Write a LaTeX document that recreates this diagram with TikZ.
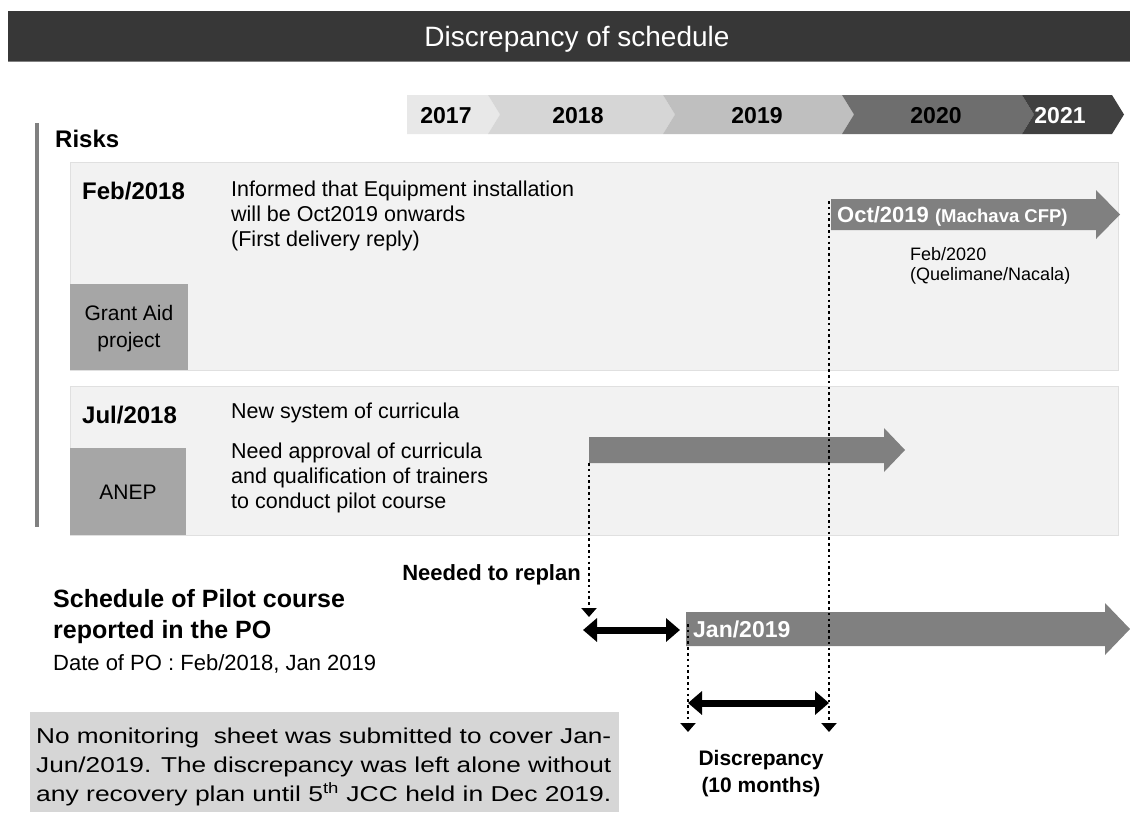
\documentclass[tikz,border=0pt]{standalone}
\usepackage{fontspec}
\setmainfont{Liberation Sans}
\usetikzlibrary{arrows.meta}

\definecolor{titlebg}{HTML}{373737}
\definecolor{panelbg}{HTML}{F2F2F2}
\definecolor{panelline}{HTML}{E0E0E0}
\definecolor{tagbg}{HTML}{A6A6A6}
\definecolor{arrowgray}{HTML}{808080}
\definecolor{notebg}{HTML}{D6D6D6}
\definecolor{yA}{HTML}{E8E8E8}
\definecolor{yB}{HTML}{D6D6D6}
\definecolor{yC}{HTML}{BFBFBF}
\definecolor{yD}{HTML}{6E6E6E}
\definecolor{yE}{HTML}{404040}

% one line of the note, widened to the full box width
\newcommand{\noteline}[1]{\resizebox{575pt}{\height}{#1}}

\begin{document}
\begin{tikzpicture}[x=1pt,y=-1pt,
  txt/.style={inner sep=0pt, anchor=base west, font=\fontsize{21.5}{25}\selectfont},
  bold/.style={inner sep=0pt, anchor=base west, font=\bfseries\fontsize{24}{28}\selectfont},
  year/.style={inner sep=0pt, anchor=base, font=\bfseries\fontsize{23}{27}\selectfont},
  tag/.style={inner sep=0pt, anchor=base, font=\fontsize{21}{25}\selectfont},
  small/.style={inner sep=0pt, anchor=base west, font=\fontsize{18}{21}\selectfont},
  panel/.style={fill=panelbg, draw=panelline, line width=0.8pt},
  tagbox/.style={fill=tagbg},
  bigarrow/.style={fill=arrowgray},
  dots/.style={line width=2.6pt, dash pattern=on 2.6pt off 3.2pt,
    -{Triangle[width=15pt,length=9pt]}},
  span/.style={line width=7pt, {Triangle[width=23pt,length=14pt]}-{Triangle[width=23pt,length=14pt]}},
]
\useasboundingbox (0,0) rectangle (1130,814);
\fill[white] (0,0) rectangle (1130,814);

% title bar
\fill[titlebg] (8,11) rectangle (1130,61);
\draw[gray, line width=1pt] (8,61) -- (1130,61);
\node[inner sep=0pt, anchor=base, text=white, font=\fontsize{28}{32}\selectfont] (title) at (577,46) {Discrepancy of schedule};

% year band
\fill[yA] (407,95) -- (488,95) -- (500,114.5) -- (488,134) -- (407,134) -- cycle;
\fill[yB] (488,95) -- (663,95) -- (675,114.5) -- (663,134) -- (488,134) -- (500,114.5) -- cycle;
\fill[yC] (663,95) -- (842,95) -- (854,114.5) -- (842,134) -- (663,134) -- (675,114.5) -- cycle;
\fill[yD] (842,95) -- (1022,95) -- (1034,114.5) -- (1022,134) -- (842,134) -- (854,114.5) -- cycle;
\fill[yE] (1022,95) -- (1112,95) -- (1124,114.5) -- (1112,134) -- (1022,134) -- (1034,114.5) -- cycle;
\node[year] (y17) at (446,123) {2017};
\node[year] (y18) at (578,123) {2018};
\node[year] (y19) at (757,123) {2019};
\node[year] (y20) at (936,123) {2020};
\node[year, text=white] (y21) at (1060,123) {2021};

% risks
\fill[arrowgray] (35,123) rectangle (39,527);
\node[bold] (risks) at (55,147) {Risks};

% first risk panel
\draw[panel] (70,162) rectangle (1118,370);
\fill[tagbox] (70,284) rectangle (188,370);
\node[bold] (feb) at (82,199) {Feb/2018};
\node[txt] (inf1) at (231,196.5) {Informed that Equipment installation};
\node[txt] (inf2) at (231,221.5) {will be Oct2019 onwards};
\node[txt] (inf3) at (231,246.5) {(First delivery reply)};
\node[tag] (ga1) at (129,320.5) {Grant Aid};
\node[tag] (ga2) at (129,347.5) {project};

\fill[bigarrow] (831,199) -- (1096,199) -- (1096,190) -- (1120,214.5) -- (1096,239) -- (1096,230) -- (831,230) -- cycle;
\node[inner sep=0pt, anchor=base west, text=white, font=\bfseries\fontsize{22}{26}\selectfont] (oct) at (837,222)
  {Oct/2019 {\fontsize{18.5}{22}\selectfont (Machava CFP)}};
\node[small] (q1) at (910,260) {Feb/2020};
\node[small] (q2) at (910,280) {(Quelimane/Nacala)};

% second risk panel
\draw[panel] (70,386) rectangle (1118,535);
\fill[tagbox] (70,448) rectangle (186,535);
\node[bold] (jul) at (82,423) {Jul/2018};
\node[txt] (cur0) at (231,418.5) {New system of curricula};
\node[txt] (cur1) at (231,458.5) {Need approval of curricula};
\node[txt] (cur2) at (231,483.5) {and qualification of trainers};
\node[txt] (cur3) at (231,508.5) {to conduct pilot course};
\node[tag] (anep) at (128,499.5) {ANEP};

\fill[bigarrow] (589,437) -- (884,437) -- (884,428) -- (905,450) -- (884,472) -- (884,463) -- (589,463) -- cycle;

% pilot course schedule
\node[inner sep=0pt, anchor=base west, font=\bfseries\fontsize{25}{29}\selectfont] (sch1) at (53,607) {Schedule of Pilot course};
\node[inner sep=0pt, anchor=base west, font=\bfseries\fontsize{25}{29}\selectfont] (sch2) at (53,638) {reported in the PO};
\node[inner sep=0pt, anchor=base west, font=\fontsize{22}{26}\selectfont] (date) at (53,670) {Date of PO : Feb/2018, Jan 2019};

\fill[bigarrow] (686,612) -- (1105,612) -- (1105,603) -- (1130,629) -- (1105,655) -- (1105,646) -- (686,646) -- cycle;
\node[inner sep=0pt, anchor=base west, text=white, font=\bfseries\fontsize{23}{27}\selectfont] (jan) at (693,637.5) {Jan/2019};

\node[inner sep=0pt, anchor=base east, font=\bfseries\fontsize{22}{26}\selectfont] (replan) at (581,580) {Needed to replan};

% guide lines and spans
\coordinate (rpTop) at (589,463);
\coordinate (rpEnd) at (589,617);
\coordinate (octTop) at (829,201);
\coordinate (octEnd) at (829,732);
\coordinate (janTop) at (688,624);
\coordinate (janEnd) at (688,732);
\coordinate (rpL) at (583,630);
\coordinate (rpR) at (680,630);
\coordinate (dL) at (688,703);
\coordinate (dR) at (829,703);

\draw[dots] (rpTop) -- (rpEnd);
\draw[dots] (octTop) -- (octEnd);
\draw[dots] (janTop) -- (janEnd);
\draw[span] (rpL) -- (rpR);
\draw[span] (dL) -- (dR);

\node[inner sep=0pt, anchor=base, font=\bfseries\fontsize{21}{25}\selectfont] (disc1) at (761,765.5) {Discrepancy};
\node[inner sep=0pt, anchor=base, font=\bfseries\fontsize{21}{25}\selectfont] (disc2) at (761,792.5) {(10 months)};

% note box
\fill[notebg] (30,712) rectangle (619,812);
\node[txt] (n1) at (36,743.5) {\noteline{No monitoring \ sheet was submitted to cover Jan-}};
\node[txt] (n2) at (36,772.5) {\noteline{Jun/2019. The discrepancy was left alone without}};
\node[txt] (n3) at (36,801.5) {\noteline{any recovery plan until 5\textsuperscript{th} JCC held in Dec 2019.}};
\end{tikzpicture}
\end{document}
